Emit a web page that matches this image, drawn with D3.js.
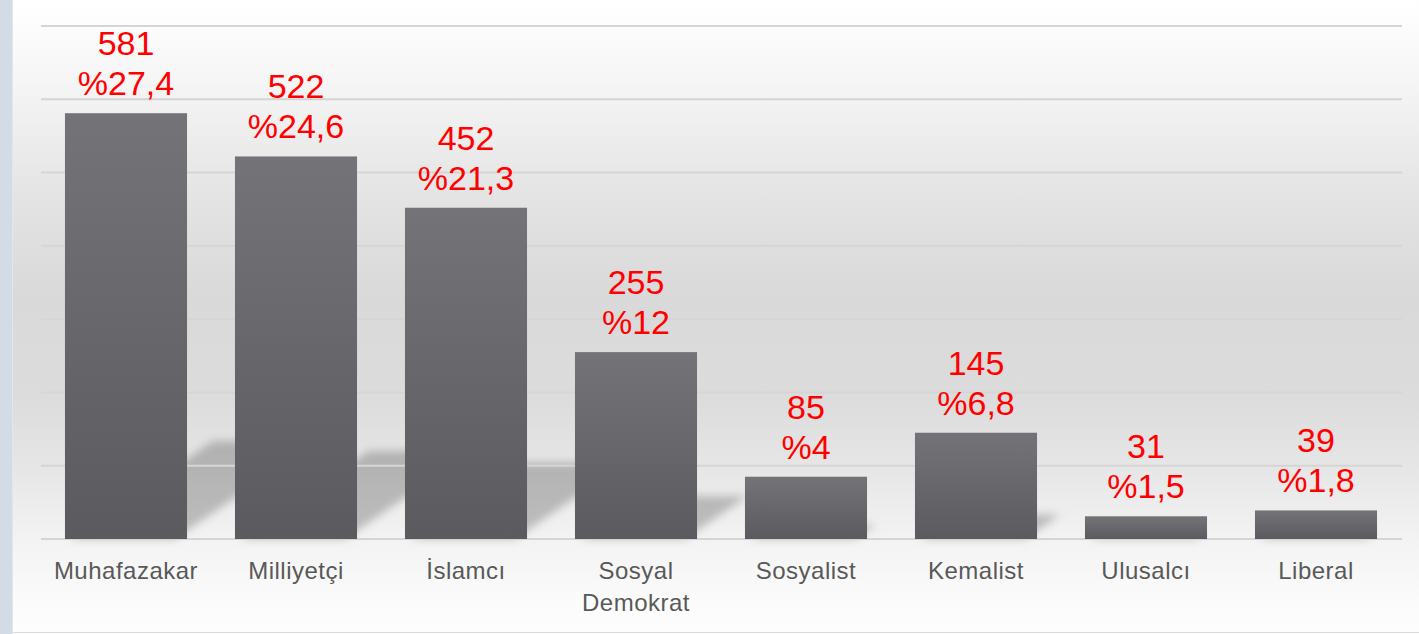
<!DOCTYPE html>
<html>
<head>
<meta charset="utf-8">
<script src="https://cdn.jsdelivr.net/npm/d3@7"></script>
<style>
  html, body { margin: 0; padding: 0; background: #fff; }
  svg { display: block; }
</style>
</head>
<body>
<svg width="1419" height="634"></svg>
<script>
var categories = ['Muhafazakar', 'Milliyetçi', 'İslamcı', 'Sosyal Demokrat', 'Sosyalist', 'Kemalist', 'Ulusalcı', 'Liberal']
var counts = [581, 522, 452, 255, 85, 145, 31, 39]
var percents = ['27,4', '24,6', '21,3', '12', '4', '6,8', '1,5', '1,8']
var gridTicks = [0, 100, 200, 300, 400, 500, 600, 700]

;(function () {
  var svg = d3.select('svg')
  var W = 1419
  var font = "'Liberation Sans', Arial, sans-serif"

  var x = d3.scaleBand().domain(categories).range([41, 1401])
    .paddingInner(0.282).paddingOuter(0.141)
  var y = d3.scaleLinear().domain([0, 700]).range([539, 26])

  var defs = svg.append('defs')

  var bg = defs.append('linearGradient').attr('id', 'bg')
    .attr('x1', 0).attr('y1', 0).attr('x2', 0).attr('y2', 1)
  ;[[0, '#ffffff'], [0.1, '#f8f8f8'], [0.32, '#e3e3e3'], [0.47, '#d9d9d9'],
    [0.63, '#dcdcdc'], [0.74, '#e6e6e6'], [0.855, '#f3f3f3'], [0.95, '#fbfbfb'], [1, '#fdfdfd']]
    .forEach(function (s) {
      bg.append('stop').attr('offset', s[0]).attr('stop-color', s[1])
    })

  var barGrad = defs.append('linearGradient').attr('id', 'bar')
    .attr('x1', 0).attr('y1', 0).attr('x2', 0).attr('y2', 1)
  barGrad.append('stop').attr('offset', 0).attr('stop-color', '#747378')
  barGrad.append('stop').attr('offset', 1).attr('stop-color', '#5b5a5f')

  defs.append('filter').attr('id', 'blur')
    .attr('x', '-50%').attr('y', '-50%').attr('width', '200%').attr('height', '200%')
    .append('feGaussianBlur').attr('stdDeviation', 4)

  // frame
  svg.append('rect').attr('x', 0).attr('y', 0).attr('width', 12).attr('height', 634).attr('fill', '#d3dce4')
  svg.append('rect').attr('x', 12).attr('y', 0).attr('width', 1).attr('height', 634).attr('fill', '#e4e7ea')
  svg.append('rect').attr('x', 13).attr('y', 0).attr('width', W - 13).attr('height', 632).attr('fill', 'url(#bg)')
  svg.append('line').attr('x1', 13).attr('x2', W).attr('y1', 632.5).attr('y2', 632.5)
    .attr('stroke', '#d9d9d9').attr('stroke-width', 1)

  var rows = categories.map(function (c, i) {
    return { cat: c, n: counts[i], pct: percents[i] }
  })

  // shadows
  svg.append('g').attr('filter', 'url(#blur)')
    .selectAll('path').data(rows).enter().append('path')
    .attr('fill', '#000').attr('fill-opacity', 0.22)
    .attr('d', function (d) {
      var h = y(0) - y(d.n)
      var sh = h * 0.23
      var dx = sh * 1.45
      var x0 = x(d.cat) + 6
      var x1 = x(d.cat) + x.bandwidth() - 12
      var b = y(0)
      return 'M' + x0 + ',' + b + 'L' + x1 + ',' + b +
        'L' + (x1 + dx) + ',' + (b - sh) + 'L' + (x0 + dx) + ',' + (b - sh) + 'Z'
    })

  // grid
  svg.append('g').selectAll('line').data(gridTicks).enter().append('line')
    .attr('x1', 41).attr('x2', 1402)
    .attr('y1', function (d) { return y(d) }).attr('y2', function (d) { return y(d) })
    .attr('stroke', '#d5d5d5').attr('stroke-width', 2)

  // bars
  svg.append('g').selectAll('rect').data(rows).enter().append('rect')
    .attr('x', function (d) { return x(d.cat) })
    .attr('y', function (d) { return y(d.n) })
    .attr('width', x.bandwidth())
    .attr('height', function (d) { return y(0) - y(d.n) })
    .attr('fill', 'url(#bar)')

  // value labels
  var vl = svg.append('g').selectAll('text').data(rows).enter().append('text')
    .attr('text-anchor', 'middle')
    .attr('font-family', font).attr('font-size', 34).attr('fill', '#ff0000')
    .attr('x', function (d) { return x(d.cat) + x.bandwidth() / 2 })
  vl.append('tspan').attr('x', function (d) { return x(d.cat) + x.bandwidth() / 2 })
    .attr('y', function (d) { return y(d.n) - 58 })
    .text(function (d) { return d.n })
  vl.append('tspan').attr('x', function (d) { return x(d.cat) + x.bandwidth() / 2 })
    .attr('y', function (d) { return y(d.n) - 18 })
    .text(function (d) { return '%' + d.pct })

  // category labels
  var cl = svg.append('g').selectAll('text').data(rows).enter().append('text')
    .attr('text-anchor', 'middle')
    .attr('font-family', font).attr('font-size', 24).attr('letter-spacing', 0.5)
    .attr('fill', '#595959')
  cl.each(function (d) {
    var t = d3.select(this)
    var cx = x(d.cat) + x.bandwidth() / 2
    d.cat.split(' ').forEach(function (w, i) {
      t.append('tspan').attr('x', cx).attr('y', 579 + i * 32).text(w)
    })
  })
})()
</script>
</body>
</html>
